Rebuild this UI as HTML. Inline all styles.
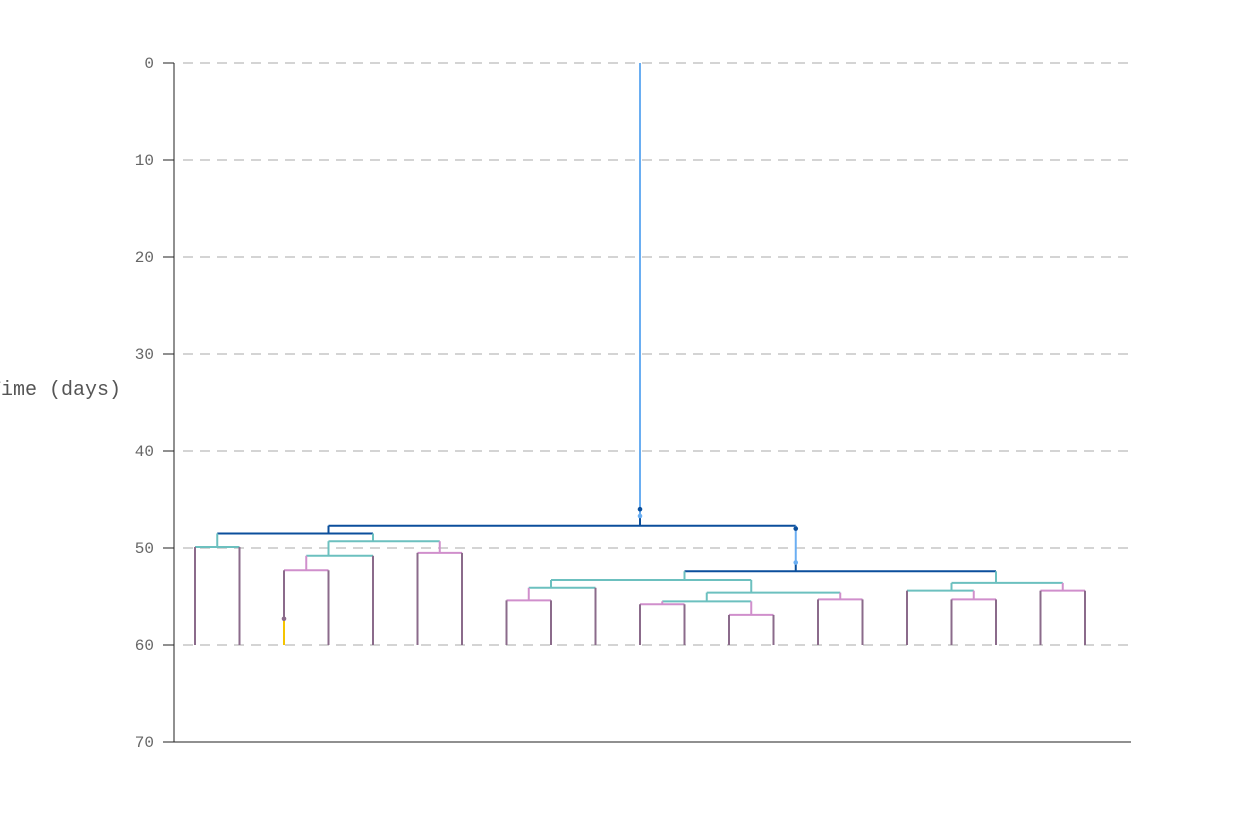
<!DOCTYPE html>
<html><head><meta charset="utf-8"><style>
html,body{margin:0;padding:0;background:#fff;width:1250px;height:833px;overflow:hidden}
text{font-family:"Liberation Mono",monospace}
</style></head><body>
<svg id="chart" width="1250" height="833" xmlns="http://www.w3.org/2000/svg"></svg>
<script>
// ---- data ----
const yTicks = [0,10,20,30,40,50,60,70];
const leafCount = 21;
const leafTime = 60;
// merge heights (days) and colours, in build order of the tree below
const mergeHeight = [49.9, 52.3, 50.8, 50.5, 49.3, 48.5, 55.4, 54.1, 55.8, 56.9, 55.5, 55.3, 54.6, 53.3, 55.3, 54.4, 54.4, 53.6, 52.4, 47.7];
const mergeColor  = ["teal","pink","teal","pink","teal","dark","pink","teal","pink","pink","teal","pink","teal","teal","pink","teal","pink","teal","dark","dark"];
const eventTimes = [57.3, 48, 46];
const eventTimes2 = [null, 51.5, 46.7];

const colors = {dark:"#0b4f9c", light:"#6aaef2", teal:"#6cc0bf", pink:"#d08fcc", purple:"#8b6b8b", yellow:"#f5c400"};
const X0 = 195, DX = 44.5, Y0 = 63, DY = 9.7;
const xL = i => X0 + i*DX;
const y = v => Y0 + v*DY;

const svg = document.getElementById('chart');
const NS = "http://www.w3.org/2000/svg";
function mk(tag, attrs){ const e=document.createElementNS(NS,tag); for(const k in attrs) e.setAttribute(k,attrs[k]); svg.appendChild(e); return e; }

yTicks.forEach(t=>{
  if(t<70){ const g=mk('line',{x1:183,x2:1131,y1:y(t),y2:y(t),stroke:"#d4d4d4","stroke-width":2,"stroke-dasharray":"10,7"});
    }
  const tk=mk('line',{x1:163,x2:174,y1:y(t),y2:y(t),stroke:"#222","stroke-width":1});
   
  const tx=mk('text',{x:154,y:y(t)+5,"text-anchor":"end","font-size":16,fill:"#666"}); tx.textContent=t;
   
});
const ax=mk('line',{x1:174,x2:174,y1:y(0),y2:y(70),stroke:"#222","stroke-width":1});
 
const bx=mk('line',{x1:174,x2:1131,y1:y(70),y2:y(70),stroke:"#222","stroke-width":1});
 
const yt=mk('text',{x:121,y:395,"text-anchor":"end","font-size":20,fill:"#555"}); yt.textContent="Time (days)";
 

const nodes=[];
for(let i=0;i<leafCount;i++) nodes.push({leaves:[i],h:leafTime,color:"purple"});
const order=[[0,1],[2,3],[22,4],[5,6],[23,24],[21,25],[7,8],[27,9],[10,11],[12,13],[29,30],[14,15],[31,32],[28,33],[17,18],[16,35],[19,20],[36,37],[34,38],[26,39]];
order.forEach((p,k)=>{
  nodes.push({kids:p,leaves:nodes[p[0]].leaves.concat(nodes[p[1]].leaves),h:mergeHeight[k],color:mergeColor[k]});
});
const rootIdx = nodes.length-1;
nodes.forEach(n=>{ n.x = n.leaves.reduce((s,i)=>s+xL(i),0)/n.leaves.length; });
function line(x1,y1,x2,y2,c,name){ const l=mk('line',{x1,y1,x2,y2,stroke:colors[c],"stroke-width":2});   }
function dot(cx,cy,c){ const d=mk('circle',{cx,cy,r:2.3,fill:colors[c]});   }
nodes.forEach((n,i)=>{
  if(n.kids){
    const a=nodes[n.kids[0]], b=nodes[n.kids[1]];
    line(a.x,y(n.h),b.x,y(n.h),n.color,'branch-join');
    [a,b].forEach(c=>{
      const ci=nodes.indexOf(c);
      if(ci===2){ line(c.x,y(c.h),c.x,y(eventTimes[0]),'yellow','leaf-branch'); line(c.x,y(eventTimes[0]),c.x,y(n.h),'purple','leaf-branch'); dot(c.x,y(eventTimes[0]),'purple'); }
      else if(ci===rootIdx-1){
        line(c.x,y(c.h),c.x,y(c.h)-8,'dark','branch');
        line(c.x,y(c.h)-8,c.x,y(n.h),'light','branch');
        dot(c.x,y(eventTimes2[1]),'light'); dot(c.x,y(eventTimes[1]),'dark');
      } else line(c.x,y(c.h),c.x,y(n.h),c.kids?c.color:'purple', c.kids?'branch':'leaf-branch');
    });
  }
});
const r=nodes[rootIdx];
line(r.x,y(r.h),r.x,y(r.h)-10,'dark','root-stem');
line(r.x,y(r.h)-10,r.x,y(0),'light','root-stem');
dot(r.x,y(eventTimes2[2]),'light'); dot(r.x,y(eventTimes[2]),'dark');
</script>
</body></html>
